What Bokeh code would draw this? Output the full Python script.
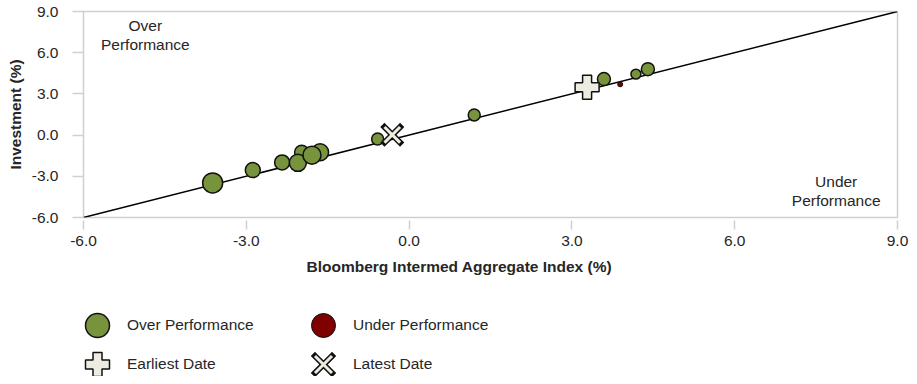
from bokeh.plotting import figure
from bokeh.layouts import column
from bokeh.models import (Range1d, FixedTicker, NumeralTickFormatter, Legend, LegendItem,
                          ColumnDataSource, Title)
from bokeh.core.properties import value
from bokeh.embed import file_html
from bokeh.resources import INLINE

# ---- data ----
over_x = [-3.62, -2.88, -2.34, -1.98, -1.64, -2.05, -1.79, -0.58, 1.20, 3.59, 4.18, 4.40]
over_y = [-3.48, -2.55, -1.99, -1.25, -1.25, -2.02, -1.46, -0.29, 1.47, 4.08, 4.44, 4.80]
over_size = [20, 15, 15, 14, 17, 17, 18, 12, 12, 13, 10, 13]

under_x = [3.89]
under_y = [3.70]
under_size = [5]

earliest_x = [3.28]
earliest_y = [3.48]
latest_x = [-0.31]
latest_y = [0.02]

ref_line = [-6.0, 9.0]
ticks = [-6, -3, 0, 3, 6, 9]

corner_labels = ["Over\nPerformance", "Under\nPerformance"]
corner_x = [-4.86, 7.87]
corner_y = [7.30, -4.09]

x_title = "Bloomberg Intermed Aggregate Index (%)"
y_title = "Investment (%)"
legend_labels = ["Over Performance", "Under Performance", "Earliest Date", "Latest Date"]

FONT = "Liberation Sans"
TXT = "#262626"
GREEN = "#77933C"
RED = "#7F0000"
BEIGE = "#EEECE1"
EDGE = "#111111"

# ---------------- main chart ----------------
p = figure(width=909, height=282, output_backend="svg", toolbar_location=None,
           x_range=Range1d(-6, 9), y_range=Range1d(-6, 9),
           min_border_left=83, min_border_right=12, min_border_top=11, min_border_bottom=64)

p.xgrid.visible = False
p.ygrid.visible = False
p.outline_line_color = "#d0d0d0"
p.outline_line_width = 1.5

for ax in (p.xaxis[0], p.yaxis[0]):
    ax.ticker = FixedTicker(ticks=ticks)
    ax.formatter = NumeralTickFormatter(format="0.0")
    ax.axis_line_color = None
    ax.major_tick_line_color = "#d0d0d0"
    ax.major_tick_line_width = 1.5
    ax.minor_tick_line_color = None
    ax.major_label_text_font = FONT
    ax.major_label_text_font_size = "15.5px"
    ax.major_label_text_color = TXT
    ax.axis_label_text_font = FONT
    ax.axis_label_text_font_size = "15.5px"
    ax.axis_label_text_font_style = "bold"
    ax.axis_label_text_color = TXT

p.yaxis.axis_label = y_title
p.xaxis.major_tick_in = -3
p.xaxis.major_tick_out = 12
p.xaxis.major_label_standoff = 6
p.yaxis.major_tick_in = 0
p.yaxis.major_tick_out = 11
p.yaxis.major_label_standoff = 14
p.yaxis.axis_label_standoff = 5

# x-axis title, centred on the whole chart like the reference
p.add_layout(Title(text=x_title, align="left", offset=223, standoff=15,
                   text_font=FONT, text_font_size="15.5px", text_font_style="bold",
                   text_color=TXT), "below")

# reference line y = x
p.line(ref_line, ref_line, line_color="black", line_width=1.5)

over_style = dict(marker="circle", fill_color=GREEN, line_color=EDGE, line_width=1.5)
under_style = dict(marker="circle", fill_color=RED, line_color=EDGE, line_width=1)
plus_style = dict(marker="plus", fill_color=BEIGE, line_color=EDGE, line_width=1.5)
xout_style = dict(marker="x", line_color=EDGE, line_width=6, line_cap="square")
xin_style = dict(marker="x", line_color=BEIGE, line_width=3)

p.scatter(over_x, over_y, size=over_size, **over_style)
p.scatter(under_x, under_y, size=under_size, **under_style)
p.scatter(earliest_x, earliest_y, size=24, **plus_style)
p.scatter(latest_x, latest_y, size=22, **xout_style)
p.scatter(latest_x, latest_y, size=22, **xin_style)

src = ColumnDataSource(dict(x=corner_x, y=corner_y, t=corner_labels))
p.text(x="x", y="y", text="t", source=src, text_align="center", text_baseline="middle",
       text_font=value(FONT), text_font_size="15.5px", text_color=TXT, text_line_height=1.1)

# ---------------- legend strip ----------------
q = figure(width=909, height=94, output_backend="svg", toolbar_location=None,
           x_range=Range1d(-6, 9), y_range=Range1d(-6, 9),
           x_axis_type=None, y_axis_type=None,
           min_border_left=0, min_border_right=0, min_border_top=0, min_border_bottom=0)
q.xgrid.visible = False
q.ygrid.visible = False
q.outline_line_color = None

# key renderers (hidden; only their legend glyphs are shown)
k_over = q.scatter(over_x, over_y, size=over_size, visible=False, **over_style)
k_under = q.scatter(under_x, under_y, size=under_size, visible=False, **under_style)
k_plus = q.scatter(earliest_x, earliest_y, size=24, visible=False, **plus_style)
k_xout = q.scatter(latest_x, latest_y, size=22, visible=False, **xout_style)
k_xin = q.scatter(latest_x, latest_y, size=22, visible=False, **xin_style)

common = dict(orientation="vertical", glyph_width=60, glyph_height=60, spacing=0,
              padding=0, margin=0, label_standoff=0, border_line_alpha=0,
              background_fill_alpha=0, inactive_fill_alpha=0,
              label_text_font=FONT, label_text_font_size="15.5px", label_text_color=TXT)

key_sets = [[k_over], [k_under], [k_plus], [k_xout, k_xin]]
key_locs = [(-16, 21), (210, 21), (-16, -18), (210, -18)]
for lab, rends, loc in zip(legend_labels, key_sets, key_locs):
    q.add_layout(Legend(items=[LegendItem(label=lab, renderers=rends)], location=loc, **common))

layout = column(p, q, spacing=0)
open("out.html", "w").write(file_html(layout, INLINE))
